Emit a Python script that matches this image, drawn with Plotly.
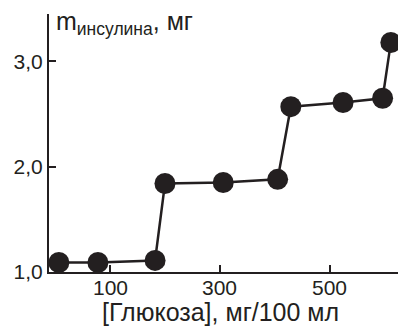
import plotly.graph_objects as go

glucose = [7, 78, 182, 200, 306, 405, 429, 524, 596, 611]
insulin = [1.09, 1.09, 1.11, 1.84, 1.85, 1.88, 2.57, 2.61, 2.65, 3.18]
x_ticks = [100, 300, 500]
y_ticks = [1, 2, 3]
y_tick_text = ["1,0", "2,0", "3,0"]

ink = "#231f20"
tick_font = dict(family="Liberation Sans, Arial, sans-serif", size=21, color=ink)
title_font = dict(family="Liberation Sans, Arial, sans-serif", size=25, color=ink)

fig = go.Figure()
fig.add_trace(go.Scatter(
    x=glucose, y=insulin, mode="lines+markers",
    line=dict(color=ink, width=2.5),
    marker=dict(color=ink, size=21),
    cliponaxis=False,
))

annotations = [
    dict(text=str(v), xref="x", yref="paper", x=v, y=0, yshift=-15,
         xanchor="center", yanchor="middle", showarrow=False, font=tick_font)
    for v in x_ticks
]
annotations += [
    dict(text="m<sub>инсулина</sub>, мг", xref="paper", yref="paper",
         x=0.015, y=1.035, xanchor="left", yanchor="top", showarrow=False,
         font=title_font),
    dict(text="[Глюкоза], мг/100 мл", xref="paper", yref="paper",
         x=0.49, y=0, yshift=-40, xanchor="center", yanchor="middle",
         showarrow=False, font=title_font),
]

fig.update_layout(
    width=398, height=327,
    margin=dict(l=49, r=0, t=14, b=55),
    plot_bgcolor="white", paper_bgcolor="white",
    showlegend=False,
    font=tick_font,
    xaxis=dict(range=[-11, 624], tickvals=x_ticks, ticks="inside", ticklen=7,
               tickwidth=1.5, tickcolor=ink, showgrid=False, zeroline=False,
               showline=True, linecolor=ink, linewidth=2, showticklabels=False),
    yaxis=dict(range=[1.0, 3.45], tickvals=y_ticks, ticktext=y_tick_text,
               ticks="inside", ticklen=7, tickwidth=1.5, tickcolor=ink,
               showgrid=False, zeroline=False, showline=True, linecolor=ink,
               linewidth=2, tickfont=tick_font),
    annotations=annotations,
)

fig.write_html("out.html")
